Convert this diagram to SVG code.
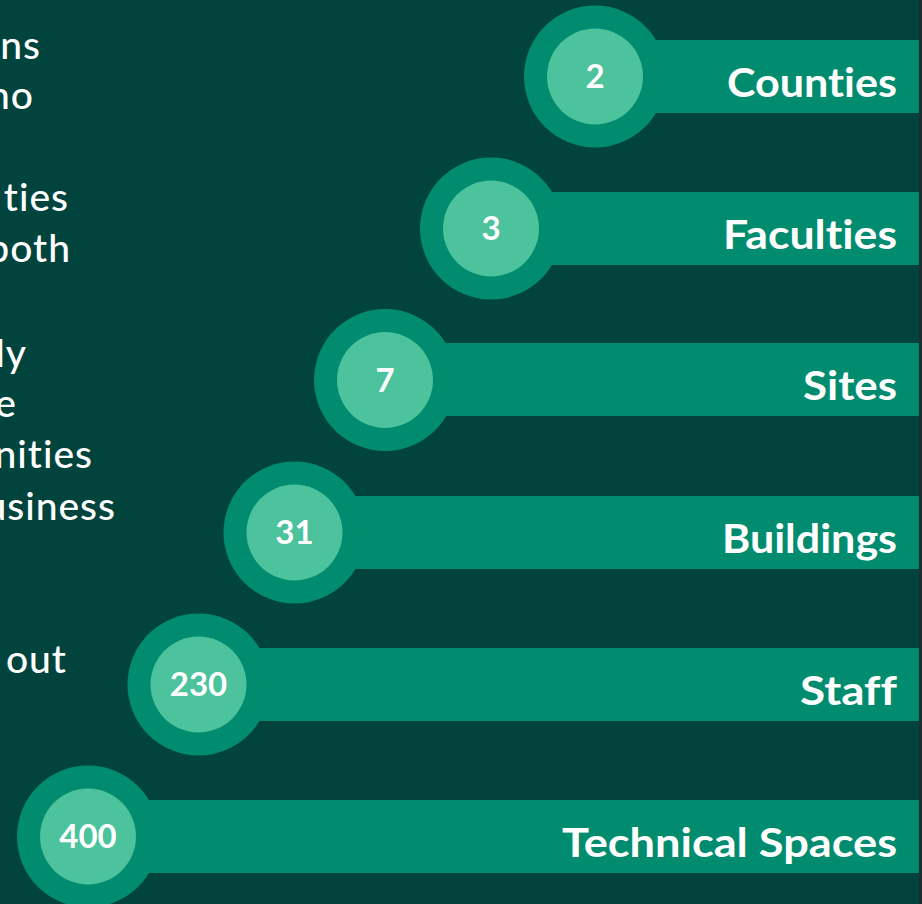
<svg xmlns="http://www.w3.org/2000/svg" width="922" height="904" viewBox="0 0 922 904">
<style>
.bg{fill:#01443E}
.bar{fill:#028C6F}
.outer{fill:#028C6F}
.inner{fill:#4CC29D}
text{font-variant-ligatures:none;font-feature-settings:"liga" 0}
.num{font-family:"Lato","Liberation Sans",sans-serif;font-weight:700;font-size:33px;fill:#FFFFFF;text-anchor:middle}
.lbl{font-family:"Lato","Liberation Sans",sans-serif;font-weight:700;font-size:41px;fill:#FFFFFF;text-anchor:end}
.body{font-family:"Lato","Liberation Sans",sans-serif;font-weight:500;font-size:39px;letter-spacing:1px;fill:#FFFFFF;text-anchor:end}
</style>
<rect class="bg" x="0" y="0" width="922" height="904"/>
<rect x="919" y="0" width="3" height="904" fill="#1F2B2A"/>
<g id="bodytext">
<text class="body" x="41" y="59">ns</text>
<text class="body" x="34" y="109">no</text>
<text class="body" x="69" y="211">ties</text>
<text class="body" x="71" y="262">both</text>
<text class="body" x="27" y="367">ly</text>
<text class="body" x="17" y="417">e</text>
<text class="body" x="93" y="468">nities</text>
<text class="body" x="116" y="520">usiness</text>
<text class="body" x="67" y="673">out</text>
</g>
<g id="connectors"></g>
<g id="node-counties">
<rect class="bar" x="595" y="40" width="324" height="73"/>
<circle class="outer" cx="595" cy="76.5" r="71"/>
<circle class="inner" cx="595" cy="76.5" r="48"/>
<text class="num" x="595" y="88">2</text>
<text class="lbl" x="897" y="96.5" textLength="170" lengthAdjust="spacingAndGlyphs">Counties</text>
</g>
<g id="node-faculties">
<rect class="bar" x="491" y="192" width="428" height="73"/>
<circle class="outer" cx="491" cy="228.5" r="71"/>
<circle class="inner" cx="491" cy="228.5" r="48"/>
<text class="num" x="491" y="240">3</text>
<text class="lbl" x="897" y="248.5" textLength="174" lengthAdjust="spacingAndGlyphs">Faculties</text>
</g>
<g id="node-sites">
<rect class="bar" x="385" y="343" width="534" height="73"/>
<circle class="outer" cx="385" cy="380" r="71"/>
<circle class="inner" cx="385" cy="380" r="48"/>
<text class="num" x="385" y="391.5">7</text>
<text class="lbl" x="897" y="400" textLength="94" lengthAdjust="spacingAndGlyphs">Sites</text>
</g>
<g id="node-buildings">
<rect class="bar" x="294" y="496" width="625" height="73"/>
<circle class="outer" cx="294.5" cy="532.5" r="71"/>
<circle class="inner" cx="294.5" cy="532.5" r="48"/>
<text class="num" x="294.5" y="544">31</text>
<text class="lbl" x="897" y="552.5" textLength="175" lengthAdjust="spacingAndGlyphs">Buildings</text>
</g>
<g id="node-staff">
<rect class="bar" x="198" y="648" width="721" height="73"/>
<circle class="outer" cx="198.5" cy="684.5" r="71"/>
<circle class="inner" cx="198.5" cy="684.5" r="48"/>
<text class="num" x="198.5" y="696">230</text>
<text class="lbl" x="897" y="704.5" textLength="97" lengthAdjust="spacingAndGlyphs">Staff</text>
</g>
<g id="node-technical-spaces">
<rect class="bar" x="88" y="800" width="831" height="73"/>
<circle class="outer" cx="88" cy="836.5" r="71"/>
<circle class="inner" cx="88" cy="836.5" r="48"/>
<text class="num" x="88" y="848">400</text>
<text class="lbl" x="897" y="856.5" textLength="335" lengthAdjust="spacingAndGlyphs">Technical Spaces</text>
</g>
</svg>
